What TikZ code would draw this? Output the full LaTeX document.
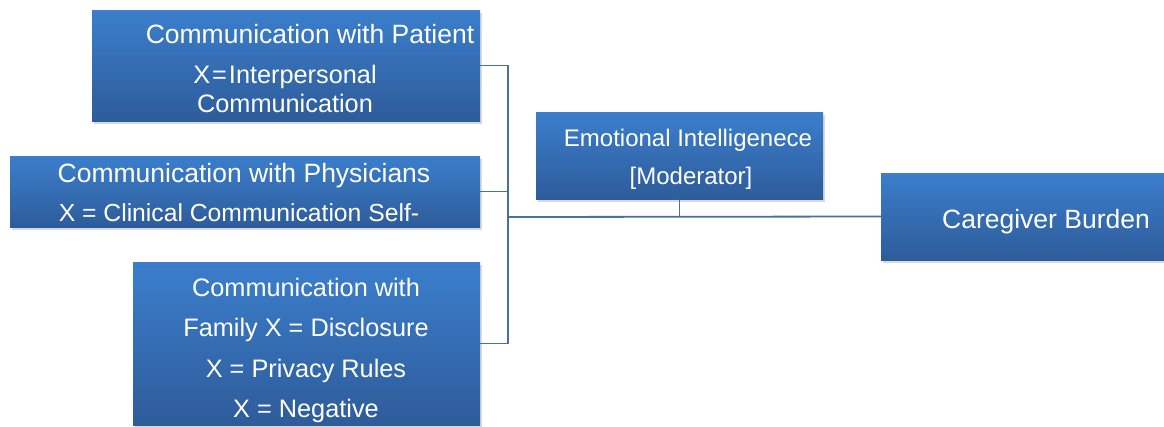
\documentclass[tikz,border=0pt]{standalone}
\usepackage{fontspec}
\setmainfont{Liberation Sans}
\usetikzlibrary{shadows}
\definecolor{boxtop}{RGB}{59,126,204}
\definecolor{boxbot}{RGB}{46,92,154}
\definecolor{wirec}{RGB}{74,111,160}
\begin{document}
\begin{tikzpicture}[x=1pt,y=-1pt,
  box/.style={draw=none, inner sep=0pt, outer sep=0pt, anchor=north west,
    top color=boxtop, bottom color=boxbot,
    drop shadow={shadow xshift=2pt, shadow yshift=-3pt, opacity=0.3}},
  lbl/.style={anchor=base, inner sep=0pt, text=white, font=\fontsize{26.5}{31}\selectfont},
  mid/.style={font=\fontsize{25.3}{30}\selectfont},
  small/.style={font=\fontsize{24}{28}\selectfont},
  wire/.style={draw=wirec, line width=1.8pt}]
\useasboundingbox (0,0) rectangle (1164,426);

% junction where the three inputs meet
\coordinate (bus) at (508,217);

% boxes
\node[box, minimum width=388pt, minimum height=111pt] (pat) at (92,10) {};
\node[box, minimum width=470pt, minimum height=71pt] (phy) at (10,156) {};
\node[box, minimum width=347pt, minimum height=163pt] (fam) at (133,262) {};
\node[box, minimum width=287pt, minimum height=87pt] (ei) at (536,112) {};
\node[box, minimum width=300pt, minimum height=87pt] (cb) at (881,173) {};

% connectors
\draw[wire] (pat.east) -| (bus);
\draw[wire] (phy.east) -| (bus);
\draw[wire] (fam.east) -| (bus);
\draw[wire] (bus) -- (cb.west);
\draw[wire] (ei.south) -- (ei.south |- bus);

% labels
\node[lbl] (pat1) at (310,43) {Communication with Patient};
\node[lbl, mid] (pat2) at (285,83) {X\kern2pt=\kern2ptInterpersonal};
\node[lbl, mid] (pat3) at (285,112) {Communication};

\node[lbl] (phy1) at (244,182) {Communication with Physicians};
\node[lbl, font=\fontsize{24.7}{29}\selectfont] (phy2) at (239,221) {X = Clinical Communication Self-};

\node[lbl, mid] (fam1) at (306,296) {Communication with};
\node[lbl, mid] (fam2) at (306,336) {Family X = Disclosure};
\node[lbl, mid] (fam3) at (306,377) {X = Privacy Rules};
\node[lbl, mid] (fam4) at (306,417) {X = Negative};

\node[lbl, small] (ei1) at (688,146) {Emotional Intelligenece};
\node[lbl, small] (ei2) at (691,184) {[Moderator]};

\node[lbl] (cb1) at (1046,228) {Caregiver Burden};
\end{tikzpicture}
\end{document}
